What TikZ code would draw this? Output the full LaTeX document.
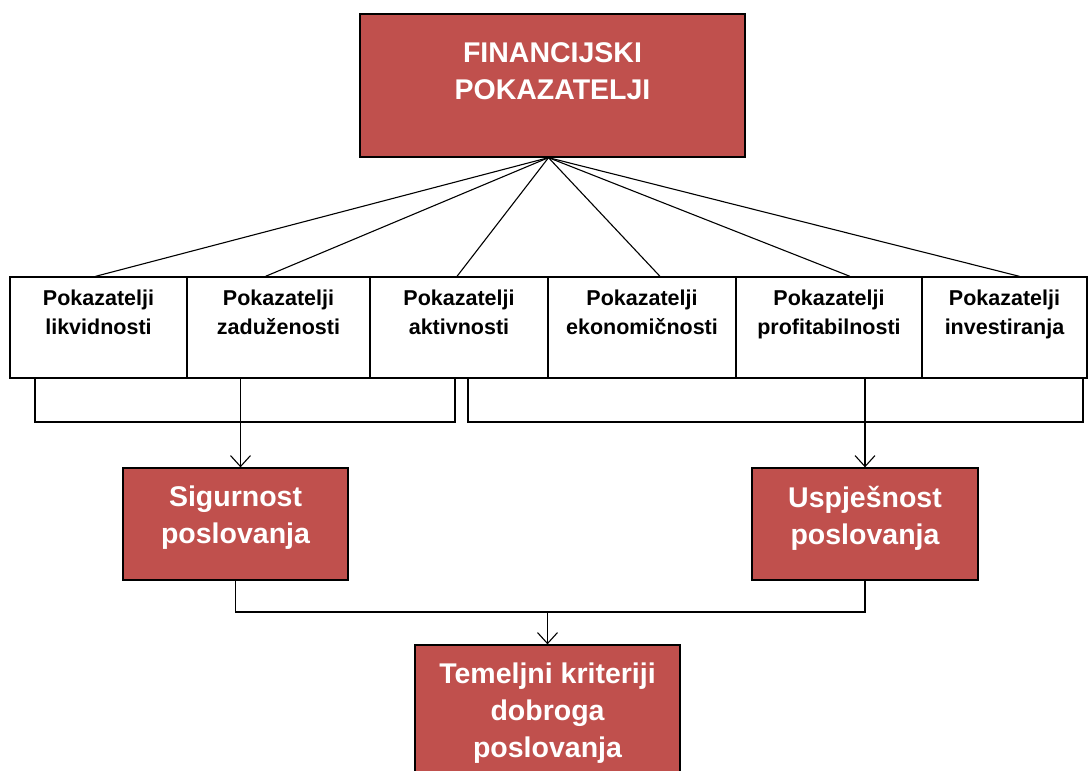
\documentclass[tikz,border=0pt]{standalone}
\usepackage{fontspec}
\setmainfont{Liberation Sans}
\usetikzlibrary{positioning,calc,arrows.meta}
\definecolor{pokred}{HTML}{C0504D}
\tikzset{
	>={Straight Barb[length=11pt,width=20pt]},
	kpibox/.style={
		draw, line width=1.3pt,
		minimum height=101pt,
		inner sep=0pt,
		label={[kpitext]north:#1}},
	kpitext/.style={anchor=north, yshift=-10pt, align=center,
		font=\fontsize{21.5}{29}\selectfont\bfseries},
	redfill/.style={
		draw, line width=1.3pt,
		fill=pokred,
		inner sep=0pt},
	redbox/.style={redfill, label={[redtext]north:#1}},
	redtext/.style={anchor=north, yshift=-15pt, align=center, text=white,
		font=\fontsize{28.5}{37}\selectfont\bfseries},
	link/.style={draw, line width=1.1pt},
}

\begin{document}
\begin{tikzpicture}[x=1pt,y=-1pt]
\useasboundingbox (0,0) rectangle (1090,771);
% vrh
\node[redfill, label={[redtext, yshift=-11pt]north:FINANCIJSKI\\POKAZATELJI}, minimum width=385pt, minimum height=143pt] (fin) at (552.5,85.5) {};
% pokazatelji
\node[kpibox={Pokazatelji\\likvidnosti}, minimum width=177pt] (likv) at (98.5,327.5) {};
\node[kpibox={Pokazatelji\\zaduženosti}, minimum width=183pt] (zad) at (278.5,327.5) {};
\node[kpibox={Pokazatelji\\aktivnosti}, minimum width=178pt] (akt) at (459,327.5) {};
\node[kpibox={Pokazatelji\\ekonomičnosti}, minimum width=188pt] (ekon) at (642,327.5) {};
\node[kpibox={Pokazatelji\\profitabilnosti}, minimum width=186pt] (prof) at (829,327.5) {};
\node[kpibox={Pokazatelji\\investiranja}, minimum width=165pt] (inv) at (1004.5,327.5) {};
% sigurnost i uspjesnost
\node[redbox={Sigurnost\\poslovanja}, minimum width=225pt, minimum height=112pt] (sig) at (235.5,524) {};
\node[redbox={Uspješnost\\poslovanja}, minimum width=226pt, minimum height=112pt] (usp) at (865,524) {};
\node[redbox={Temeljni kriteriji\\dobroga\\poslovanja}, minimum width=265pt, minimum height=150pt] (temelj) at (547.5,720) {};

% lepeza
\foreach \kpi/\dx in {likv/-3, zad/-13, akt/-2, ekon/18, prof/21, inv/15}
	\draw[link] ([xshift=-4pt]fin.south) -- ([xshift=\dx pt]\kpi.north);

% zagrade
\coordinate (lzag) at (35,422);
\coordinate (dzag) at (1083,422);
\draw[link] (lzag |- likv.south) -- (lzag) -- (455,422) -- (455,378);
\draw[link] (468,378) -- (468,422) -- (dzag) -- (dzag |- inv.south);
\draw[link,->] ([xshift=5pt]sig.north |- zad.south) -- ([xshift=5pt]sig.north);
\draw[link,->] (usp.north |- prof.south) -- (usp.north);

% spoj
\coordinate (spoj) at (547.5,612);
\draw[link] (sig.south) -- (sig.south |- spoj) -- (usp.south |- spoj) -- (usp.south);
\draw[link,->] (spoj) -- (temelj.north);
\end{tikzpicture}
\end{document}
